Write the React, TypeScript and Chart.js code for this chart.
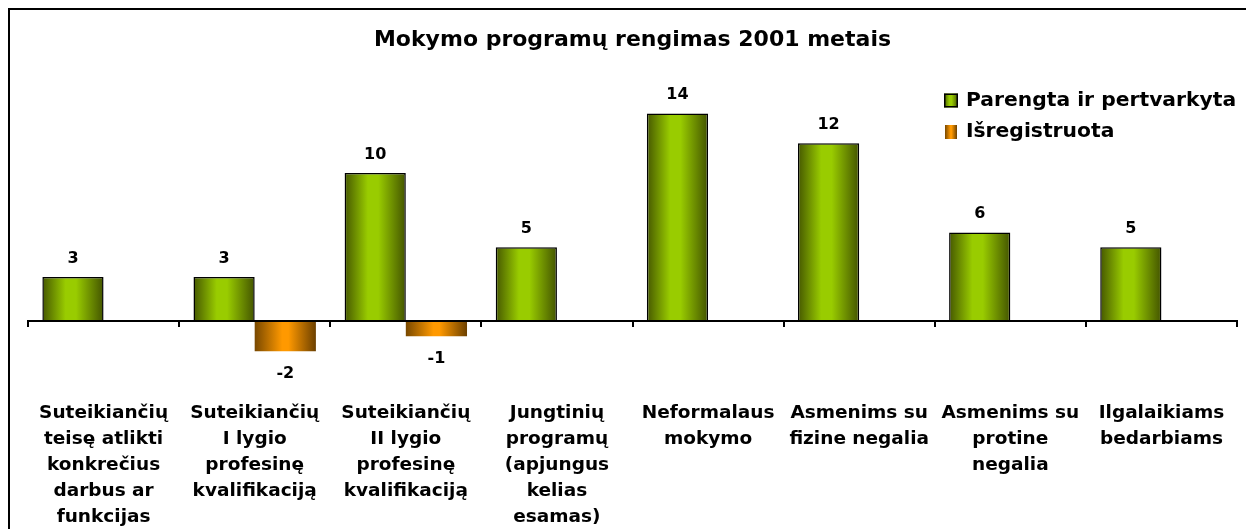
import React, { useEffect, useRef } from 'react';
import { Chart, registerables } from 'chart.js';

Chart.register(...registerables);

const TITLE = 'Mokymo programų rengimas 2001 metais';

const CATEGORIES: string[][] = [
  ['Suteikiančių', 'teisę atlikti', 'konkrečius', 'darbus ar', 'funkcijas'],
  ['Suteikiančių', 'I lygio', 'profesinę', 'kvalifikaciją'],
  ['Suteikiančių', 'II lygio', 'profesinę', 'kvalifikaciją'],
  ['Jungtinių', 'programų', '(apjungus', 'kelias', 'esamas)'],
  ['Neformalaus', 'mokymo'],
  ['Asmenims su', 'fizine negalia'],
  ['Asmenims su', 'protine', 'negalia'],
  ['Ilgalaikiams', 'bedarbiams'],
];

const SERIES_NAMES = ['Parengta ir pertvarkyta', 'Išregistruota'];
const PREPARED: (number | null)[] = [3, 3, 10, 5, 14, 12, 6, 5];
const DEREGISTERED: (number | null)[] = [null, -2, -1, null, null, null, null, null];

const Y_MIN = -4.4;
const Y_MAX = 16;

const FONT = '"DejaVu Sans", Verdana, sans-serif';

const GREEN_STOPS: [number, string][] = [
  [0, '#465800'],
  [0.38, '#99cc00'],
  [0.55, '#99cc00'],
  [1, '#435400'],
];
const ORANGE_STOPS: [number, string][] = [
  [0, '#784800'],
  [0.45, '#ff9900'],
  [0.55, '#ff9900'],
  [1, '#6c4000'],
];

function hGrad(ctx: CanvasRenderingContext2D, x0: number, x1: number, stops: [number, string][]) {
  const g = ctx.createLinearGradient(x0, 0, x1, 0);
  stops.forEach(([o, c]) => g.addColorStop(o, c));
  return g;
}

const gradientPlugin = {
  id: 'barGradients',
  beforeDatasetsDraw(chart: any) {
    chart.data.datasets.forEach((_ds: any, di: number) => {
      const meta = chart.getDatasetMeta(di);
      const stops = di === 0 ? GREEN_STOPS : ORANGE_STOPS;
      meta.data.forEach((el: any) => {
        const { x, width } = el.getProps(['x', 'width'], true);
        if (!isFinite(x) || !isFinite(width)) return;
        try {
          el.options.backgroundColor = hGrad(chart.ctx, x - width / 2, x + width / 2, stops);
        } catch (e) {
          /* ignore */
        }
      });
    });
  },
};

const valueLabelPlugin = {
  id: 'valueLabels',
  afterDatasetsDraw(chart: any) {
    const ctx: CanvasRenderingContext2D = chart.ctx;
    ctx.save();
    ctx.font = `bold 16px ${FONT}`;
    ctx.fillStyle = '#000';
    ctx.textAlign = 'center';
    ctx.textBaseline = 'middle';
    chart.data.datasets.forEach((ds: any, di: number) => {
      const meta = chart.getDatasetMeta(di);
      meta.data.forEach((el: any, i: number) => {
        const v = ds.data[i];
        if (v === null || v === undefined) return;
        const { x, y } = el.getProps(['x', 'y'], true);
        ctx.fillText(String(v), x, v >= 0 ? y - 18.5 : y + 23);
      });
    });
    ctx.restore();
  },
};

const legendPlugin = {
  id: 'insetLegend',
  afterDraw(chart: any) {
    const ctx: CanvasRenderingContext2D = chart.ctx;
    const boxX = 934;
    const textX = 956;
    const rows = [90.5, 122];
    ctx.save();
    ctx.font = `bold 20.3px ${FONT}`;
    ctx.textAlign = 'left';
    ctx.textBaseline = 'middle';
    chart.data.datasets.forEach((ds: any, di: number) => {
      const cy = rows[di];
      const stops = di === 0 ? GREEN_STOPS : ORANGE_STOPS;
      const size = 14;
      const bx = di === 0 ? boxX : boxX + 1;
      const bw = di === 0 ? size : size - 2;
      ctx.fillStyle = hGrad(ctx, bx, bx + bw, stops);
      ctx.fillRect(bx, cy - size / 2, bw, size);
      if (di === 0) {
        ctx.strokeStyle = '#000';
        ctx.lineWidth = 1.5;
        ctx.strokeRect(bx + 0.75, cy - size / 2 + 0.75, bw - 1.5, size - 1.5);
      }
      ctx.fillStyle = '#000';
      ctx.fillText(ds.label, textX, cy);
    });
    ctx.restore();
  },
};

export default function App() {
  const canvasRef = useRef<HTMLCanvasElement | null>(null);

  useEffect(() => {
    document.body.style.overflow = 'hidden';
    const canvas = canvasRef.current;
    if (!canvas) return;
    const chart = new Chart(canvas, {
      type: 'bar',
      data: {
        labels: CATEGORIES,
        datasets: [
          {
            label: SERIES_NAMES[0],
            data: PREPARED,
            backgroundColor: () => '#99cc00',
            borderColor: '#000',
            borderWidth: 1.5,
            barPercentage: 1,
            categoryPercentage: 0.81,
          },
          {
            label: SERIES_NAMES[1],
            data: DEREGISTERED,
            backgroundColor: () => '#ff9900',
            borderWidth: 0,
            barPercentage: 1,
            categoryPercentage: 0.81,
          },
        ],
      },
      options: {
        responsive: false,
        animation: false,
        layout: { padding: { left: 18, right: 9, top: 0, bottom: 0.2 } },
        plugins: {
          legend: { display: false },
          tooltip: { enabled: false },
          title: {
            display: true,
            text: TITLE,
            color: '#000',
            font: { family: FONT, size: 22, weight: 'bold', lineHeight: 1.2 },
            padding: { top: 17.5, bottom: 30 },
          },
        },
        scales: {
          x: {
            type: 'category',
            offset: true,
            grid: { display: false },
            border: { display: false },
            ticks: {
              color: '#000',
              font: { family: FONT, size: 18.5, weight: 'bold', lineHeight: '26px' },
              padding: 5,
              maxRotation: 0,
              minRotation: 0,
              autoSkip: false,
            },
          },
          x2: {
            type: 'category',
            axis: 'x',
            position: { y: 0 },
            offset: true,
            grid: {
              display: true,
              offset: true,
              drawOnChartArea: false,
              drawTicks: true,
              tickLength: 5,
              color: '#000',
              lineWidth: 2,
            },
            border: { display: true, color: '#000', width: 2, z: 1 },
            ticks: { display: false },
          },
          y: {
            display: false,
            min: Y_MIN,
            max: Y_MAX,
          },
        },
      } as any,
      plugins: [gradientPlugin, valueLabelPlugin, legendPlugin],
    });
    return () => chart.destroy();
  }, []);

  return (
    <div
      style={{
        position: 'absolute',
        left: 8,
        top: 8,
        width: 1238,
        height: 521,
        boxSizing: 'border-box',
        borderTop: '2px solid #000',
        borderLeft: '2px solid #000',
        overflow: 'hidden',
        background: '#fff',
      }}
    >
      <canvas ref={canvasRef} width={1236} height={525} style={{ display: 'block' }} />
    </div>
  );
}
